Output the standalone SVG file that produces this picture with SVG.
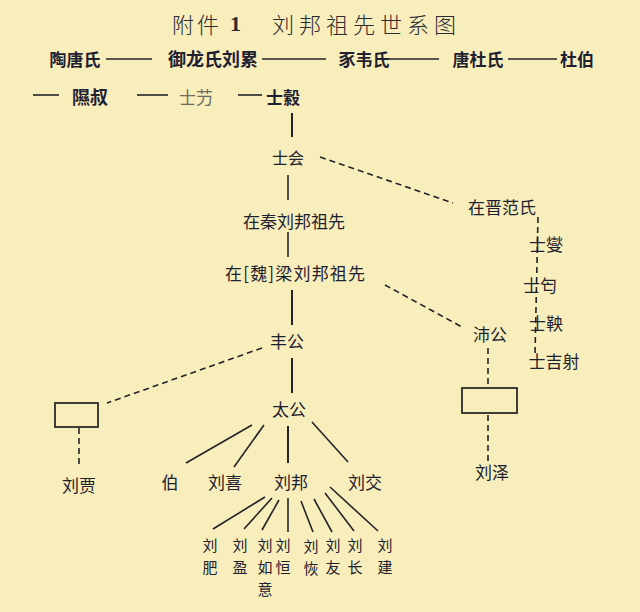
<svg xmlns="http://www.w3.org/2000/svg" width="640" height="612" viewBox="0 0 640 612">
<style>
.t{font-family:"Noto Sans CJK SC","Noto Sans CJK TC",sans-serif;fill:#1e2130;text-anchor:middle;dominant-baseline:central}
.s15{font-size:15px}
.s16{font-size:16px}
.s17{font-size:17px}
.s18{font-size:18px}
.b{font-weight:bold}
.title{font-family:"Noto Sans CJK SC",sans-serif;font-size:22px;fill:#2a2b33;dominant-baseline:central;font-weight:300}
.ln{stroke:#23232a;stroke-width:1.6;fill:none}
.tk{stroke:#23232a;stroke-width:2;fill:none}
.ds{stroke:#23232a;stroke-width:1.6;fill:none;stroke-dasharray:6 4}
.bx{fill:none;stroke:#2a2a2a;stroke-width:1.8}
</style>
<rect width="640" height="612" fill="#f8eebb"/>
<g id="title">
<text class="title" x="172" y="23" letter-spacing="3">附件</text>
<text x="230" y="23" style="font-family:'Liberation Serif',serif;font-weight:bold;font-size:22px;fill:#2a2b33;dominant-baseline:central">1</text>
<text class="title" x="272" y="23" letter-spacing="5">刘邦祖先世系图</text>
</g>
<g id="connectors">
<line class="ln" x1="106" y1="59" x2="152" y2="59"/>
<line class="ln" x1="262" y1="59" x2="326" y2="59"/>
<line class="ln" x1="385" y1="59" x2="439" y2="59"/>
<line class="ln" x1="508" y1="59" x2="557" y2="59"/>
<line class="ln" x1="33" y1="95" x2="59" y2="95"/>
<line class="ln" x1="137" y1="95" x2="168" y2="95"/>
<line class="ln" x1="238" y1="95" x2="262" y2="95"/>
<line class="tk" x1="292" y1="113" x2="292" y2="137"/>
<line class="ln" x1="288" y1="175" x2="288" y2="200"/>
<line class="ln" x1="288" y1="232" x2="288" y2="257"/>
<line class="tk" x1="292" y1="290" x2="292" y2="325"/>
<line class="tk" x1="292" y1="358" x2="292" y2="393"/>
<line class="ds" x1="320" y1="157" x2="453" y2="203"/>
<line class="ds" x1="538" y1="217" x2="535" y2="355"/>
<line class="ds" x1="385" y1="285" x2="462" y2="327"/>
<line class="ds" x1="488" y1="348" x2="488" y2="387"/>
<line class="ds" x1="488" y1="415" x2="488" y2="463"/>
<line class="ds" x1="262" y1="348" x2="107" y2="403"/>
<line class="ds" x1="79" y1="428" x2="79" y2="465"/>
<line class="ln" x1="252" y1="425" x2="186" y2="463"/>
<line class="ln" x1="264" y1="425" x2="234" y2="467"/>
<line class="tk" x1="288" y1="426" x2="288" y2="463"/>
<line class="ln" x1="312" y1="422" x2="348" y2="462"/>
<line class="ln" x1="265" y1="497" x2="213" y2="529"/>
<line class="ln" x1="272" y1="498" x2="244" y2="529"/>
<line class="ln" x1="279" y1="500" x2="262" y2="530"/>
<line class="ln" x1="288" y1="498" x2="288" y2="532"/>
<line class="ln" x1="301" y1="501" x2="313" y2="532"/>
<line class="ln" x1="314" y1="499" x2="332" y2="532"/>
<line class="ln" x1="325" y1="493" x2="354" y2="531"/>
<line class="ln" x1="330" y1="487" x2="378" y2="531"/>
</g>
<g id="n-taotang"><text class="t s17 b" x="75" y="58">陶唐氏</text></g>
<g id="n-yulong"><text class="t s18 b" x="213" y="58">御龙氏刘累</text></g>
<g id="n-shiwei"><text class="t s17 b" x="364" y="58">豕韦氏</text></g>
<g id="n-tangdu"><text class="t s17 b" x="478" y="58">唐杜氏</text></g>
<g id="n-dubo"><text class="t s17 b" x="577" y="58">杜伯</text></g>
<g id="n-xishu"><text class="t s18 b" x="90" y="96">隰叔</text></g>
<g id="n-shiwei2"><text class="t s17" x="196" y="96" style="fill:#6d6a60">士芀</text></g>
<g id="n-shihu"><text class="t s17 b" x="283" y="96">士縠</text></g>
<g id="n-shihui"><text class="t s16" x="288" y="157">士会</text></g>
<g id="n-zaiqin"><text class="t s17" x="294" y="220">在秦刘邦祖先</text></g>
<g id="n-zaiwei"><text class="t s17" x="295" y="272" textLength="140" lengthAdjust="spacing">在[魏]梁刘邦祖先</text></g>
<g id="n-fenggong"><text class="t s17" x="287" y="340">丰公</text></g>
<g id="n-taigong"><text class="t s17" x="289" y="408">太公</text></g>
<g id="n-box-left"><rect class="bx" x="55" y="403" width="43" height="24"/></g>
<g id="n-liujia"><text class="t s17" x="79" y="484">刘贾</text></g>
<g id="n-bo"><text class="t s17" x="170" y="481">伯</text></g>
<g id="n-liuxi"><text class="t s17" x="225" y="481">刘喜</text></g>
<g id="n-liubang"><text class="t s17" x="291" y="481">刘邦</text></g>
<g id="n-liujiao"><text class="t s17" x="365" y="481">刘交</text></g>
<g id="n-zaijin"><text class="t s17" x="502" y="206">在晋范氏</text></g>
<g id="n-shixie"><text class="t s17" x="546" y="243">士燮</text></g>
<g id="n-shigai"><text class="t s17" x="540" y="284">士匄</text></g>
<g id="n-shiyang"><text class="t s17" x="546" y="322">士鞅</text></g>
<g id="n-shijishe"><text class="t s17" x="554" y="360">士吉射</text></g>
<g id="n-peigong"><text class="t s17" x="490" y="333">沛公</text></g>
<g id="n-box-right"><rect class="bx" x="462" y="388" width="55" height="25"/></g>
<g id="n-liuze"><text class="t s17" x="492" y="471">刘泽</text></g>
<g id="n-liufei"><text class="t s15" x="210" y="544"><tspan x="210">刘</tspan><tspan x="210" dy="22">肥</tspan></text></g>
<g id="n-liuying"><text class="t s15" x="240" y="544"><tspan x="240">刘</tspan><tspan x="240" dy="22">盈</tspan></text></g>
<g id="n-liuruyi"><text class="t s15" x="265" y="544"><tspan x="265">刘</tspan><tspan x="265" dy="22">如</tspan><tspan x="265" dy="22">意</tspan></text></g>
<g id="n-liuheng"><text class="t s15" x="283" y="544"><tspan x="283">刘</tspan><tspan x="283" dy="22">恒</tspan></text></g>
<g id="n-liuhui"><text class="t s15" x="311" y="545"><tspan x="311">刘</tspan><tspan x="311" dy="22">恢</tspan></text></g>
<g id="n-liuyou"><text class="t s15" x="333" y="544"><tspan x="333">刘</tspan><tspan x="333" dy="22">友</tspan></text></g>
<g id="n-liuchang"><text class="t s15" x="355" y="544"><tspan x="355">刘</tspan><tspan x="355" dy="22">长</tspan></text></g>
<g id="n-liujian"><text class="t s15" x="385" y="544"><tspan x="385">刘</tspan><tspan x="385" dy="22">建</tspan></text></g>
</svg>
